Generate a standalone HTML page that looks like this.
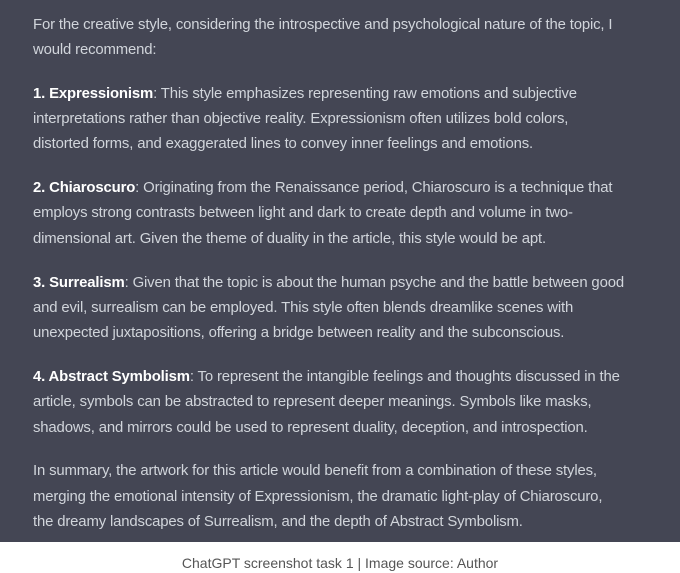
<!DOCTYPE html>
<html><head><meta charset="utf-8"><style>
html,body{margin:0;padding:0;width:680px;height:573px;overflow:hidden;background:#fff;font-family:"Liberation Sans",sans-serif}
#panel{position:absolute;left:0;top:0;width:680px;height:542px;background:#444654}
.l{position:absolute;left:33px;white-space:nowrap;color:#d1d5db;font-size:14.9px;line-height:18px;letter-spacing:-0.15px}
.l b{color:#fff;font-weight:bold}
#cap{position:absolute;left:0;width:680px;top:554px;text-align:center;color:#555;font-size:14px;line-height:18px}
</style></head><body>
<div id="panel">
<div class="l" style="top:16px">For the creative style, considering the introspective and psychological nature of the topic, I</div>
<div class="l" style="top:41px">would recommend:</div>
<div class="l" style="top:85px"><b>1. Expressionism</b>: This style emphasizes representing raw emotions and subjective</div>
<div class="l" style="top:110px">interpretations rather than objective reality. Expressionism often utilizes bold colors,</div>
<div class="l" style="top:135px">distorted forms, and exaggerated lines to convey inner feelings and emotions.</div>
<div class="l" style="top:179px"><b>2. Chiaroscuro</b>: Originating from the Renaissance period, Chiaroscuro is a technique that</div>
<div class="l" style="top:204px">employs strong contrasts between light and dark to create depth and volume in two-</div>
<div class="l" style="top:230px">dimensional art. Given the theme of duality in the article, this style would be apt.</div>
<div class="l" style="top:274px"><b>3. Surrealism</b>: Given that the topic is about the human psyche and the battle between good</div>
<div class="l" style="top:299px">and evil, surrealism can be employed. This style often blends dreamlike scenes with</div>
<div class="l" style="top:324px">unexpected juxtapositions, offering a bridge between reality and the subconscious.</div>
<div class="l" style="top:368px"><b>4. Abstract Symbolism</b>: To represent the intangible feelings and thoughts discussed in the</div>
<div class="l" style="top:393px">article, symbols can be abstracted to represent deeper meanings. Symbols like masks,</div>
<div class="l" style="top:419px">shadows, and mirrors could be used to represent duality, deception, and introspection.</div>
<div class="l" style="top:462px">In summary, the artwork for this article would benefit from a combination of these styles,</div>
<div class="l" style="top:488px">merging the emotional intensity of Expressionism, the dramatic light-play of Chiaroscuro,</div>
<div class="l" style="top:513px">the dreamy landscapes of Surrealism, and the depth of Abstract Symbolism.</div>
</div>
<div id="cap">ChatGPT screenshot task 1 | Image source: Author</div>
</body></html>
